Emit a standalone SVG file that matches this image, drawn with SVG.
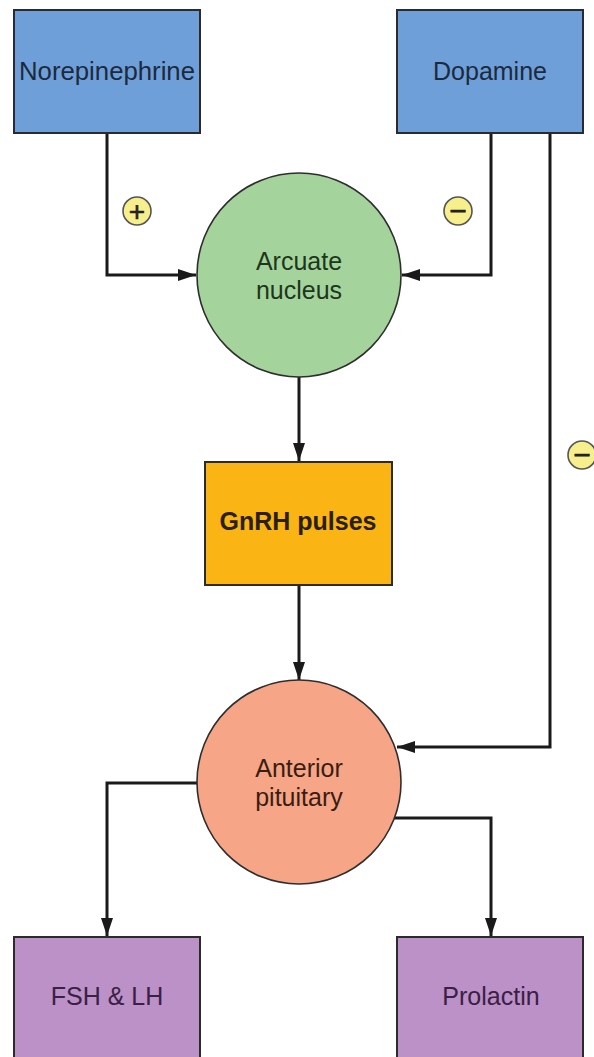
<svg xmlns="http://www.w3.org/2000/svg" width="594" height="1057" viewBox="0 0 594 1057">
<style>
.box{stroke:#2b2b2b;stroke-width:2}
.circ{stroke:#2e2e2e;stroke-width:1.6}
.lbl{font-family:"Liberation Sans",Arial,sans-serif;font-size:25px;text-anchor:middle}
.conn{fill:none;stroke:#1a1a1a;stroke-width:3}
.sign{fill:#f7ef8c;stroke:#555;stroke-width:1.6}
.signt{font-family:"Liberation Sans",Arial,sans-serif;text-anchor:middle;fill:#222;stroke:#222;stroke-width:0.6}
</style>
<defs>
<marker id="ah" viewBox="0 0 18 13" refX="18" refY="6.5" markerWidth="18" markerHeight="13" markerUnits="userSpaceOnUse" orient="auto">
<path d="M0,0.5 L18,6.5 L0,12.5 Z" fill="#1a1a1a"/>
</marker>
</defs>
<rect width="594" height="1057" fill="#ffffff"/>
<g id="connectors">
<polyline class="conn" points="107,133 107,275 196,275" marker-end="url(#ah)"/>
<polyline class="conn" points="491,133 491,275 402,275" marker-end="url(#ah)"/>
<polyline class="conn" points="550,133 550,747 397,747" marker-end="url(#ah)"/>
<line class="conn" x1="299" y1="377" x2="299" y2="461" marker-end="url(#ah)"/>
<line class="conn" x1="299" y1="585" x2="299" y2="680" marker-end="url(#ah)"/>
<polyline class="conn" points="197,783 107,783 107,936" marker-end="url(#ah)"/>
<polyline class="conn" points="394,818 491,818 491,936" marker-end="url(#ah)"/>
</g>
<g id="sign-plus">
<circle class="sign" cx="137" cy="211" r="14"/>
<text class="signt" x="137" y="221" font-size="28">+</text>
</g>
<g id="sign-minus-1">
<circle class="sign" cx="458" cy="211" r="14"/>
<text class="signt" x="458" y="221" font-size="30">−</text>
</g>
<g id="sign-minus-2">
<circle class="sign" cx="582" cy="455" r="14"/>
<text class="signt" x="582" y="465" font-size="30">−</text>
</g>
<g id="norepinephrine">
<rect class="box" x="14" y="10" width="186" height="123" fill="#6f9fd9"/>
<text class="lbl" x="107" y="80" fill="#1b2a3d" textLength="176" lengthAdjust="spacingAndGlyphs">Norepinephrine</text>
</g>
<g id="dopamine">
<rect class="box" x="397" y="10" width="186" height="123" fill="#6f9fd9"/>
<text class="lbl" x="490" y="80" fill="#1b2a3d">Dopamine</text>
</g>
<g id="arcuate">
<circle class="circ" cx="299" cy="275" r="102" fill="#a4d49c"/>
<text class="lbl" x="299" y="270" fill="#1e361c">Arcuate</text>
<text class="lbl" x="299" y="299" fill="#1e361c">nucleus</text>
</g>
<g id="gnrh">
<rect class="box" x="205" y="462" width="187" height="123" fill="#fab414"/>
<text class="lbl" x="298" y="530" font-weight="bold" fill="#2a2008">GnRH pulses</text>
</g>
<g id="anterior">
<circle class="circ" cx="299" cy="782" r="102" fill="#f6a587"/>
<text class="lbl" x="299" y="777" fill="#3a1d12">Anterior</text>
<text class="lbl" x="299" y="806" fill="#3a1d12">pituitary</text>
</g>
<g id="fsh-lh">
<rect class="box" x="14" y="937" width="186" height="130" fill="#bb91c7"/>
<text class="lbl" x="107" y="1005" fill="#3a2044">FSH &amp; LH</text>
</g>
<g id="prolactin">
<rect class="box" x="397" y="937" width="186" height="130" fill="#bb91c7"/>
<text class="lbl" x="491" y="1005" fill="#3a2044">Prolactin</text>
</g>
</svg>
